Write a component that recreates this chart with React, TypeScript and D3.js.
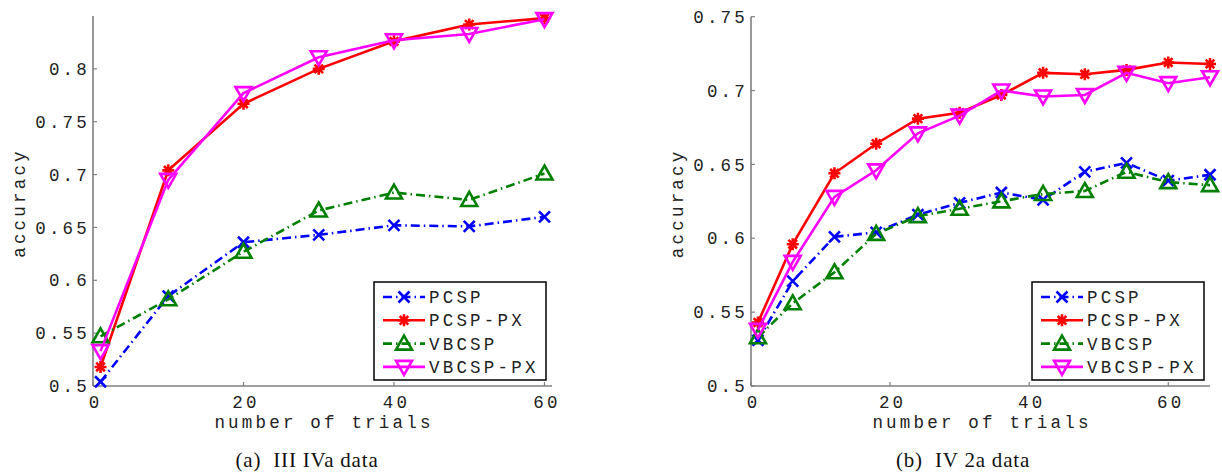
import { useEffect, useRef } from "react";
import * as d3 from "d3";

// panel (a): BCI III IVa
const trialsA = [1, 10, 20, 30, 40, 50, 60];
const pcspA = [0.504, 0.585, 0.636, 0.643, 0.652, 0.651, 0.66];
const pcspPxA = [0.518, 0.704, 0.767, 0.8, 0.826, 0.842, 0.848];
const vbcspA = [0.547, 0.582, 0.627, 0.666, 0.683, 0.676, 0.701];
const vbcspPxA = [0.533, 0.695, 0.777, 0.811, 0.827, 0.833, 0.847];

// panel (b): BCI IV 2a
const trialsB = [1, 6, 12, 18, 24, 30, 36, 42, 48, 54, 60, 66];
const pcspB = [0.531, 0.571, 0.601, 0.604, 0.616, 0.624, 0.631, 0.626, 0.645, 0.651, 0.639, 0.643];
const pcspPxB = [0.543, 0.596, 0.644, 0.664, 0.681, 0.685, 0.697, 0.712, 0.711, 0.714, 0.719, 0.718];
const vbcspB = [0.533, 0.556, 0.577, 0.603, 0.615, 0.62, 0.625, 0.63, 0.632, 0.645, 0.638, 0.636];
const vbcspPxB = [0.538, 0.584, 0.628, 0.646, 0.671, 0.683, 0.7, 0.696, 0.697, 0.712, 0.705, 0.709];

const seriesNames = ["PCSP", "PCSP-PX", "VBCSP", "VBCSP-PX"];
const xTicksA = [0, 20, 40, 60];
const xTicksB = [0, 20, 40, 60];
const yTicksA = [0.5, 0.55, 0.6, 0.65, 0.7, 0.75, 0.8];
const yTicksB = [0.5, 0.55, 0.6, 0.65, 0.7, 0.75];

const styles = [
  { color: "#0000ff", dash: "9,4,1.5,4", marker: "x" },
  { color: "#ff0000", dash: null, marker: "star" },
  { color: "#008000", dash: "9,4,1.5,4", marker: "up" },
  { color: "#ff00ff", dash: null, marker: "down" },
];

const mono = "'Liberation Mono', 'DejaVu Sans Mono', monospace";
const fs = 17.5;
const ls = 3.2;

const markerPath = (type: string) => {
  const p = d3.path();
  if (type === "x") {
    const r = 5.5;
    p.moveTo(-r, -r); p.lineTo(r, r);
    p.moveTo(-r, r); p.lineTo(r, -r);
  } else if (type === "star") {
    const r = 6, d = 4.3;
    p.moveTo(-r, 0); p.lineTo(r, 0);
    p.moveTo(0, -r); p.lineTo(0, r);
    p.moveTo(-d, -d); p.lineTo(d, d);
    p.moveTo(-d, d); p.lineTo(d, -d);
  } else if (type === "up") {
    p.moveTo(0, -8); p.lineTo(8, 6); p.lineTo(-8, 6); p.closePath();
  } else {
    p.moveTo(0, 8); p.lineTo(8, -6); p.lineTo(-8, -6); p.closePath();
  }
  return p.toString();
};

const drawPanel = (svg: any, cfg: any) => {
  const { left, right, top, bottom, xMax, yMin, yMax, trials, series, xTicks, yTicks, caption, captionX, legendX } = cfg;
  const x = d3.scaleLinear().domain([0, xMax]).range([left, right]);
  const y = d3.scaleLinear().domain([yMin, yMax]).range([bottom, top]);
  const mid = (left + right) / 2;
  const g = svg.append("g");

  // axes
  g.append("line").attr("x1", left).attr("x2", left).attr("y1", top).attr("y2", bottom)
    .attr("stroke", "#7f7f7f").attr("stroke-width", 1.6);
  g.append("line").attr("x1", left).attr("x2", right).attr("y1", bottom).attr("y2", bottom)
    .attr("stroke", "#7f7f7f").attr("stroke-width", 1.6);

  yTicks.forEach((t: number) => {
    g.append("line").attr("x1", left).attr("x2", left + 4).attr("y1", y(t)).attr("y2", y(t))
      .attr("stroke", "#7f7f7f").attr("stroke-width", 1.2);
    g.append("text").attr("x", left - 3).attr("y", y(t)).attr("dy", "0.35em")
      .attr("text-anchor", "end").attr("font-family", mono).attr("font-size", fs)
      .attr("letter-spacing", ls).attr("fill", "#222").text(String(t));
  });
  xTicks.forEach((t: number) => {
    g.append("line").attr("x1", x(t)).attr("x2", x(t)).attr("y1", bottom).attr("y2", bottom - 4)
      .attr("stroke", "#7f7f7f").attr("stroke-width", 1.2);
    g.append("text").attr("x", x(t) + 2.5).attr("y", bottom + 22)
      .attr("text-anchor", "middle").attr("font-family", mono).attr("font-size", fs)
      .attr("letter-spacing", ls).attr("fill", "#222").text(String(t));
  });

  g.append("text").attr("x", mid + 1.5).attr("y", bottom + 42)
    .attr("text-anchor", "middle").attr("font-family", mono).attr("font-size", fs)
    .attr("letter-spacing", ls).attr("fill", "#222").text("number of trials");
  g.append("text").attr("transform", `translate(${left - 74},${(top + bottom) / 2 + 2}) rotate(-90)`)
    .attr("dy", "0.35em").attr("text-anchor", "middle").attr("font-family", mono).attr("font-size", fs)
    .attr("letter-spacing", ls).attr("fill", "#222").text("accuracy");

  g.append("text").attr("x", captionX).attr("y", 467)
    .attr("text-anchor", "middle").attr("font-family", "'Liberation Serif', 'Times New Roman', serif")
    .attr("font-size", 21).attr("letter-spacing", 0.8).style("white-space", "pre")
    .attr("fill", "#111").text(caption);

  // lines + markers
  const line = d3.line<[number, number]>().x(d => x(d[0])).y(d => y(d[1]));
  series.forEach((vals: number[], i: number) => {
    const st = styles[i];
    const pts = trials.map((t: number, k: number) => [t, vals[k]] as [number, number]);
    g.append("path").attr("d", line(pts)).attr("fill", "none").attr("stroke", st.color)
      .attr("stroke-width", 2.6).attr("stroke-dasharray", st.dash);
    g.selectAll(null).data(pts).enter().append("path")
      .attr("transform", (d: any) => `translate(${x(d[0])},${y(d[1])})`)
      .attr("d", markerPath(st.marker)).attr("fill", "none").attr("stroke", st.color)
      .attr("stroke-width", 2.6);
  });

  // legend
  const lx = legendX, ly = 282, lw = 172, lh = 98;
  g.append("rect").attr("x", lx).attr("y", ly).attr("width", lw).attr("height", lh)
    .attr("fill", "#fff").attr("stroke", "#000").attr("stroke-width", 1.5);
  seriesNames.forEach((name, i) => {
    const st = styles[i];
    const ry = ly + 15 + i * 23.3;
    g.append("line").attr("x1", lx + 9).attr("x2", lx + 51).attr("y1", ry).attr("y2", ry)
      .attr("stroke", st.color).attr("stroke-width", 2.6).attr("stroke-dasharray", st.dash);
    g.append("path").attr("transform", `translate(${lx + 30},${ry})`).attr("d", markerPath(st.marker))
      .attr("fill", "none").attr("stroke", st.color).attr("stroke-width", 2.6);
    g.append("text").attr("x", lx + 55).attr("y", ry).attr("dy", "0.35em")
      .attr("font-family", mono).attr("font-size", fs).attr("letter-spacing", ls)
      .attr("fill", "#222").text(name);
  });
};

const App = () => {
  const ref = useRef<SVGSVGElement>(null);

  useEffect(() => {
    const svg = d3.select(ref.current);
    svg.selectAll("*").remove();
    drawPanel(svg, {
      left: 93, right: 552, top: 16, bottom: 386, xMax: 61, yMin: 0.5, yMax: 0.85,
      trials: trialsA, series: [pcspA, pcspPxA, vbcspA, vbcspPxA],
      xTicks: xTicksA, yTicks: yTicksA, caption: "(a)  III IVa data", captionX: 307, legendX: 374,
    });
    drawPanel(svg, {
      left: 751, right: 1210, top: 16.7, bottom: 386, xMax: 66, yMin: 0.5, yMax: 0.75,
      trials: trialsB, series: [pcspB, pcspPxB, vbcspB, vbcspPxB],
      xTicks: xTicksB, yTicks: yTicksB, caption: "(b)  IV 2a data", captionX: 963, legendX: 1032,
    });
  }, []);

  return (
    <svg ref={ref} width={1222} height={473}
      style={{ position: "absolute", left: 0, top: 0, background: "#fff" }} />
  );
};

export default App;
